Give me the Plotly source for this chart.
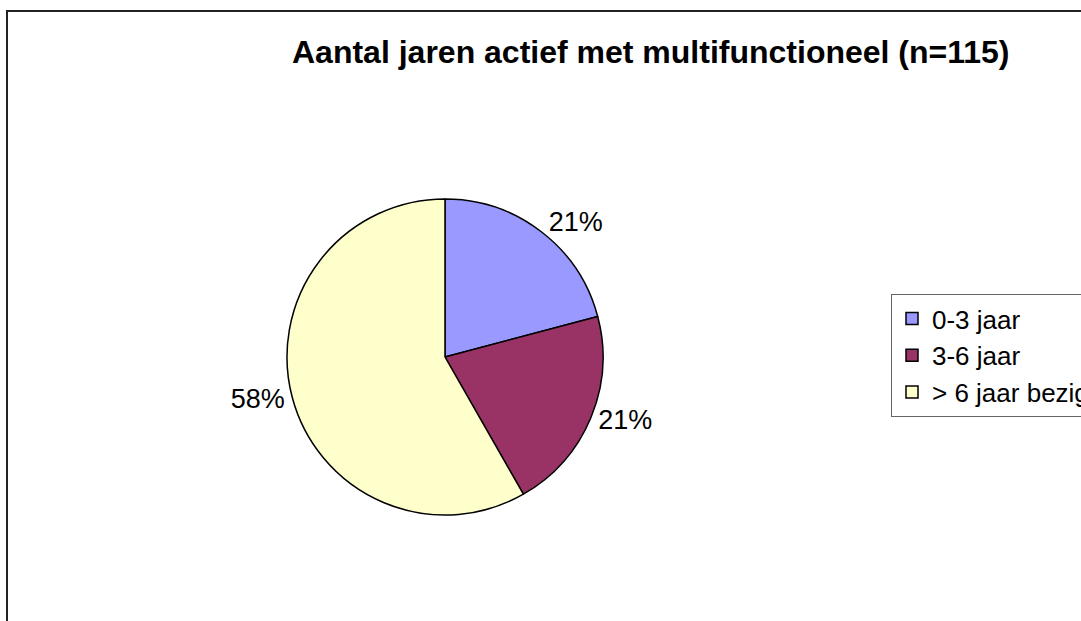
import plotly.graph_objects as go

categories = ["0-3 jaar", "3-6 jaar", "> 6 jaar bezig"]
counts = [24, 24, 67]
colors = ["#9999FF", "#993366", "#FFFFCC"]
title_text = "Aantal jaren actief met multifunctioneel (n=115)"

W, H = 1081, 621
cx, cy, r = 445, 357, 158
FONT = "Liberation Sans, Arial, sans-serif"

fig = go.Figure(go.Pie(
    labels=categories,
    values=counts,
    sort=False,
    direction="clockwise",
    rotation=0,
    marker=dict(colors=colors, line=dict(color="#000000", width=1.5)),
    texttemplate="%{percent:.0%}",
    textposition="outside",
    textfont=dict(family=FONT, size=27, color="#000000"),
    domain=dict(x=[(cx - r) / W, (cx + r) / W], y=[(H - cy - r) / H, (H - cy + r) / H]),
    showlegend=True,
    hoverinfo="label+percent",
))

fig.update_layout(
    width=W, height=H,
    margin=dict(l=0, r=0, t=0, b=0, autoexpand=False),
    paper_bgcolor="#FFFFFF",
    plot_bgcolor="#FFFFFF",
    font=dict(family=FONT, color="#000000"),
    title=dict(
        text="<b>" + title_text + "</b>",
        x=292 / W, xanchor="left", xref="paper",
        y=1 - 52 / H, yanchor="middle", yref="container",
        font=dict(family=FONT, size=32, color="#000000"),
    ),
    legend=dict(
        x=891 / W, xanchor="left", y=1 - 294 / H, yanchor="top",
        bordercolor="#666666", borderwidth=1, bgcolor="#FFFFFF",
        font=dict(family=FONT, size=26, color="#000000"),
    ),
    shapes=[dict(
        type="rect", xref="paper", yref="paper",
        x0=7 / W, x1=1.2, y0=-0.2, y1=1 - 11 / H,
        line=dict(color="#222222", width=2), fillcolor="rgba(0,0,0,0)", layer="below",
    )],
)

fig.write_html(
    "out.html",
    config={"displayModeBar": False},
    post_script="document.body.style.margin='0px';",
)
